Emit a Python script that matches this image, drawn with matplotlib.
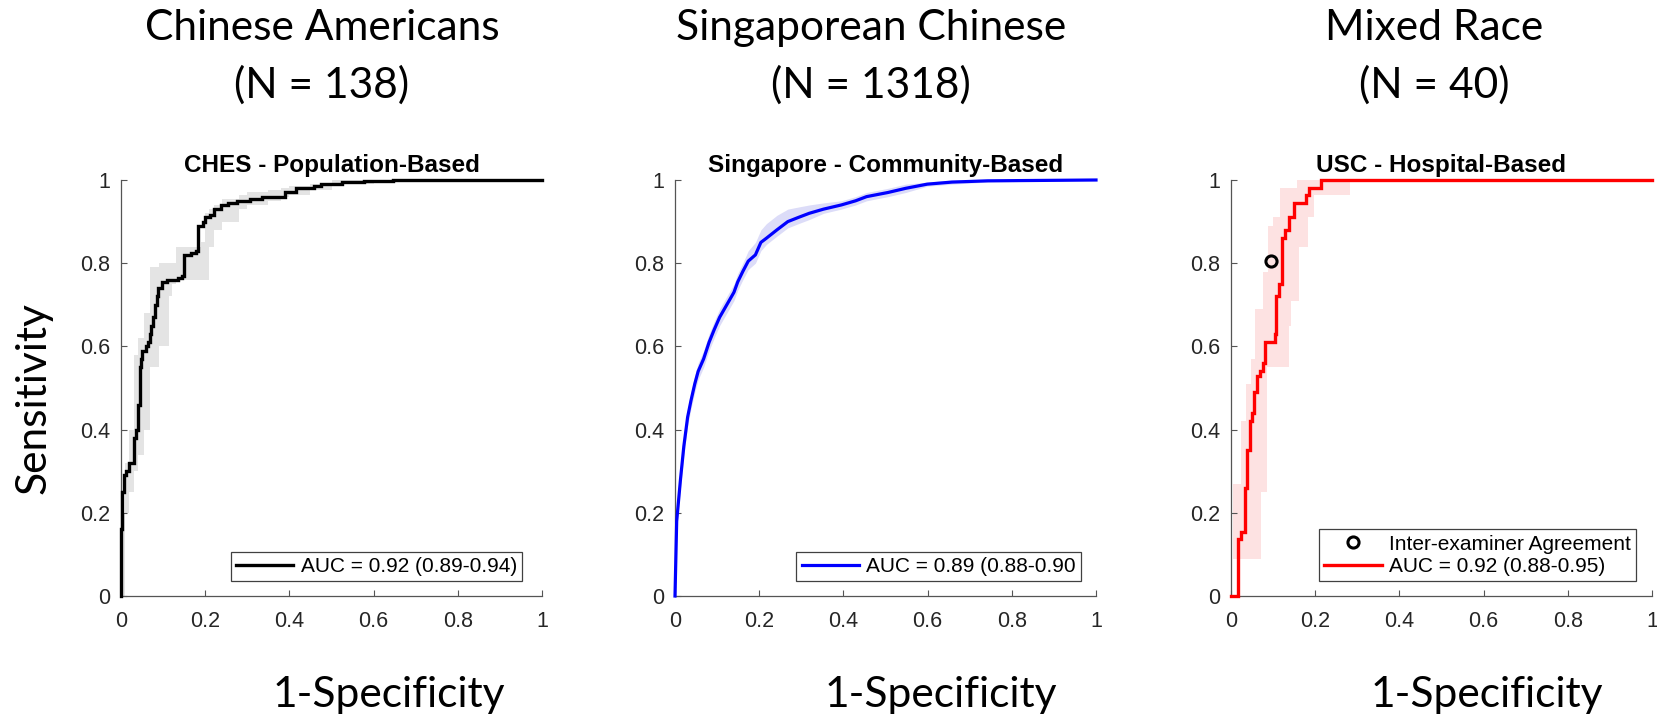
import matplotlib
matplotlib.use("Agg")
import matplotlib.pyplot as plt
from matplotlib.lines import Line2D
import numpy as np

# ---------------- data ----------------
panel_titles = ["CHES - Population-Based", "Singapore - Community-Based", "USC - Hospital-Based"]
group_names = ["Chinese Americans", "Singaporean Chinese", "Mixed Race"]
group_ns = ["(N = 138)", "(N = 1318)", "(N = 40)"]
auc_labels = ["AUC = 0.92 (0.89-0.94)", "AUC = 0.89 (0.88-0.90", "AUC = 0.92 (0.88-0.95)"]
agree_label = "Inter-examiner Agreement"
tick_vals = [0, 0.2, 0.4, 0.6, 0.8, 1]
tick_labels = ["0", "0.2", "0.4", "0.6", "0.8", "1"]

# CHES (black) ROC, step curve
fpr1 = [0, 0, 0.003, 0.007, 0.013, 0.019, 0.030, 0.032, 0.036, 0.040,
        0.044, 0.047, 0.051, 0.059, 0.064, 0.068, 0.072, 0.076, 0.081, 0.085,
        0.089, 0.098, 0.110, 0.136, 0.144, 0.149, 0.157, 0.166, 0.178, 0.182,
        0.195, 0.199, 0.212, 0.221, 0.238, 0.255, 0.276, 0.306, 0.335, 0.373,
        0.390, 0.416, 0.458, 0.475, 0.526, 0.577, 0.645, 1.0]
tpr1 = [0, 0.16, 0.25, 0.29, 0.30, 0.32, 0.33, 0.38, 0.40, 0.46,
        0.55, 0.57, 0.59, 0.60, 0.61, 0.63, 0.65, 0.67, 0.70, 0.72,
        0.74, 0.755, 0.76, 0.765, 0.77, 0.82, 0.82, 0.825, 0.83, 0.89,
        0.90, 0.91, 0.915, 0.93, 0.94, 0.945, 0.95, 0.955, 0.96, 0.96,
        0.97, 0.98, 0.985, 0.99, 0.995, 0.997, 1.0, 1.0]
band1_x = [0, 0.01, 0.02, 0.03, 0.04, 0.055, 0.07, 0.09, 0.115, 0.12, 0.13, 0.19,
           0.20, 0.21, 0.22, 0.24, 0.28, 0.30, 0.35, 0.38, 0.40, 0.45, 0.5, 0.6, 1.0]
band1_hi = [0.2, 0.32, 0.40, 0.58, 0.62, 0.68, 0.79, 0.80, 0.80, 0.80, 0.84, 0.85,
            0.92, 0.93, 0.94, 0.955, 0.965, 0.97, 0.975, 0.98, 0.985, 0.99, 1.0, 1.0, 1.0]
band1_lo = [0.0, 0.2, 0.25, 0.30, 0.34, 0.40, 0.55, 0.60, 0.72, 0.75, 0.76, 0.76,
            0.76, 0.84, 0.88, 0.90, 0.93, 0.94, 0.95, 0.96, 0.965, 0.975, 0.99, 1.0, 1.0]

# Singapore (blue) ROC
fpr2 = [0, 0.004, 0.013, 0.021, 0.030, 0.038, 0.047, 0.055, 0.068, 0.081,
        0.093, 0.106, 0.123, 0.140, 0.149, 0.161, 0.174, 0.191, 0.204, 0.217,
        0.242, 0.268, 0.293, 0.319, 0.353, 0.395, 0.429, 0.455, 0.506, 0.548,
        0.599, 0.658, 0.743, 1.0]
tpr2 = [0, 0.18, 0.28, 0.36, 0.43, 0.47, 0.51, 0.54, 0.57, 0.61,
        0.64, 0.67, 0.70, 0.73, 0.755, 0.78, 0.805, 0.82, 0.85, 0.86,
        0.88, 0.90, 0.91, 0.92, 0.93, 0.94, 0.95, 0.96, 0.97, 0.98,
        0.99, 0.995, 0.998, 1.0]
band2_hi = [0, 0.20, 0.30, 0.38, 0.45, 0.49, 0.53, 0.56, 0.59, 0.63,
            0.66, 0.69, 0.72, 0.75, 0.775, 0.80, 0.83, 0.85, 0.88, 0.895,
            0.915, 0.93, 0.935, 0.94, 0.945, 0.95, 0.96, 0.97, 0.98, 0.99,
            0.995, 1.0, 1.0, 1.0]
band2_lo = [0, 0.16, 0.26, 0.34, 0.41, 0.45, 0.49, 0.52, 0.55, 0.59,
            0.62, 0.65, 0.68, 0.71, 0.735, 0.76, 0.785, 0.80, 0.83, 0.845,
            0.865, 0.885, 0.895, 0.905, 0.92, 0.93, 0.94, 0.95, 0.96, 0.97,
            0.985, 0.99, 0.995, 1.0]

# USC (red) ROC, step curve
fpr3 = [0, 0.017, 0.023, 0.033, 0.039, 0.046, 0.050, 0.054, 0.061, 0.068, 0.076, 0.080,
        0.104, 0.108, 0.114, 0.121, 0.129, 0.137, 0.149, 0.178, 0.186, 0.214, 1.0]
tpr3 = [0, 0.138, 0.155, 0.26, 0.35, 0.42, 0.44, 0.49, 0.53, 0.54, 0.56, 0.61,
        0.63, 0.72, 0.75, 0.86, 0.88, 0.91, 0.945, 0.965, 0.98, 1.0, 1.0]
band3_x = [0.005, 0.007, 0.023, 0.035, 0.047, 0.058, 0.072, 0.076, 0.086, 0.088,
           0.099, 0.116, 0.138, 0.143, 0.157, 0.161, 0.182, 0.196, 0.282]
band3_hi = [0.27, 0.27, 0.42, 0.51, 0.57, 0.69, 0.69, 0.78, 0.78, 0.89,
            0.91, 0.98, 0.98, 0.98, 1.0, 1.0, 1.0, 1.0, 1.0]
band3_lo = [0.09, 0.09, 0.09, 0.09, 0.09, 0.09, 0.25, 0.25, 0.55, 0.55,
            0.55, 0.55, 0.65, 0.71, 0.71, 0.84, 0.91, 0.965, 1.0]
agree_fpr = [0.094]
agree_tpr = [0.805]

# ---------------- layout ----------------
W, H = 1657, 718
fig = plt.figure(figsize=(W / 100, H / 100), dpi=100)

def px_axes(left, top, right, bottom):
    return [left / W, 1 - bottom / H, (right - left) / W, (bottom - top) / H]

ax_boxes = [px_axes(121, 180, 542, 596), px_axes(675, 180, 1096, 596), px_axes(1231, 180, 1652, 596)]
axes = [fig.add_axes(b) for b in ax_boxes]

AXC = "#262626"
TICKFONT = "Liberation Sans"

for ax, title in zip(axes, panel_titles):
    ax.set_xlim(0, 1)
    ax.set_ylim(0, 1)
    ax.set_xticks(tick_vals)
    ax.set_xticklabels(tick_labels)
    ax.set_yticks(tick_vals)
    ax.set_yticklabels(tick_labels)
    for s in ["top", "right"]:
        ax.spines[s].set_visible(False)
    for s in ["left", "bottom"]:
        ax.spines[s].set_color("#555555")
        ax.spines[s].set_linewidth(0.9)
    ax.tick_params(direction="in", length=4, width=0.8, color="#555555",
                   labelcolor=AXC, labelsize=15.5)
    ax.tick_params(axis="x", pad=11)
    ax.tick_params(axis="y", pad=8)
    for lab in ax.get_xticklabels() + ax.get_yticklabels():
        lab.set_family(TICKFONT)
    ax.set_title(title, fontsize=17.5, fontweight="bold", family=TICKFONT, pad=6, color="black")

# panel 1
ax = axes[0]
ax.fill_between(band1_x, band1_lo, band1_hi, step="post", color="#e4e4e4", linewidth=0, zorder=1)
ax.plot(fpr1, tpr1, drawstyle="steps-post", color="black", lw=2.4, clip_on=False, zorder=3,
        label=auc_labels[0], solid_joinstyle="miter")

# panel 2
ax = axes[1]
ax.fill_between(fpr2, band2_lo, band2_hi, color="#dcdcf8", linewidth=0, zorder=1)
ax.plot(fpr2, tpr2, color="#0000ff", lw=2.3, clip_on=False, zorder=3, label=auc_labels[1])

# panel 3
ax = axes[2]
ax.fill_between(band3_x, band3_lo, band3_hi, step="post", color="#fde2e2", linewidth=0, zorder=1)
ax.plot(fpr3, tpr3, drawstyle="steps-post", color="#ff0000", lw=2.4, clip_on=False, zorder=3,
        label=auc_labels[2], solid_joinstyle="miter")
ax.plot(agree_fpr, agree_tpr, linestyle="none", marker="o", ms=8, mfc="none", mec="black",
        mew=2.2, zorder=4, label=agree_label)

leg_kw = dict(loc="lower right", borderaxespad=0, fancybox=False, framealpha=1,
              edgecolor="#404040", handlelength=2.75, handletextpad=0.35,
              borderpad=0.25, labelspacing=0.15,
              prop={"family": TICKFONT, "size": 15})

# legend anchor positions (axes coords)
legend_anchors = [((522 - 121) / 421, (596 - 581) / 416),
                  ((1081 - 675) / 421, (596 - 581) / 416),
                  ((1636 - 1231) / 421, (596 - 581) / 416)]

for i, ax in enumerate(axes):
    h, l = ax.get_legend_handles_labels()
    if i == 2:
        h, l = h[::-1], l[::-1]
    lg = ax.legend(h, l, bbox_to_anchor=legend_anchors[i], **leg_kw)
    lg.get_frame().set_linewidth(0.9)

# ---------------- slide-style text (Calibri-like) ----------------
PPT = "Lato"
fig.canvas.draw()
renderer = fig.canvas.get_renderer()
probe = fig.text(0, 0, group_ns[0], fontsize=30, family=PPT)
wprobe = probe.get_window_extent(renderer).width
probe.remove()
ppt_size = 30 * 175.0 / wprobe

title_cx = [322, 871, 1434]
xlabel_cx = [389, 941, 1487]
for cx, name, n in zip(title_cx, group_names, group_ns):
    fig.text(cx / W, 1 - 40 / H, name, ha="center", va="baseline", fontsize=ppt_size, family=PPT)
    fig.text(cx / W, 1 - 98 / H, n, ha="center", va="baseline", fontsize=ppt_size, family=PPT)
for cx in xlabel_cx:
    fig.text(cx / W, 1 - 707 / H, "1-Specificity", ha="center", va="baseline", fontsize=ppt_size, family=PPT)
fig.text(34 / W, 1 - 398 / H, "Sensitivity", ha="center", va="center", rotation=90,
         fontsize=ppt_size, family=PPT)

fig.savefig("out.png", dpi=100, facecolor="white")
